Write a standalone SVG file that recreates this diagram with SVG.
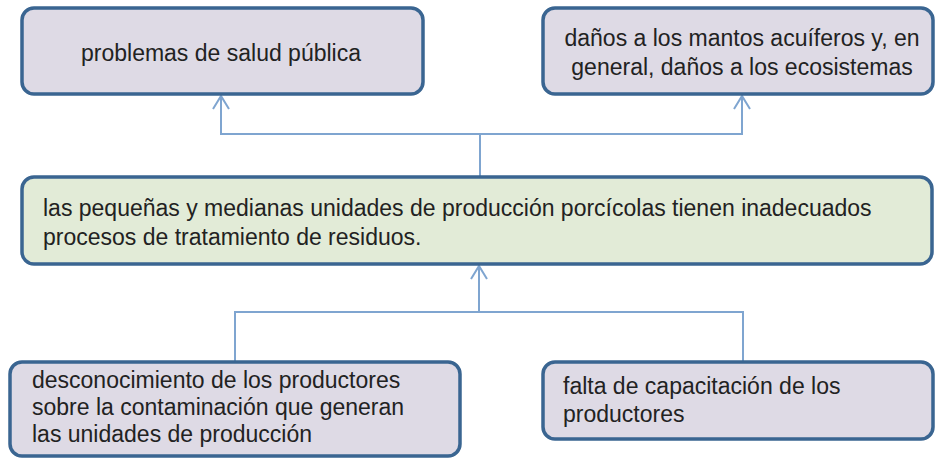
<svg xmlns="http://www.w3.org/2000/svg" width="935" height="458" viewBox="0 0 935 458">
<style>
.box{fill:#DEDAE5;stroke:#3A6591;stroke-width:3.5}
.green{fill:#E2EBD7;stroke:#3A6591;stroke-width:3.5}
.t{font-family:"Liberation Sans","DejaVu Sans",sans-serif;font-size:23px;fill:#222}
.c{fill:none;stroke:#7FA5D0;stroke-width:2}
</style>
<defs>
<marker id="ah" markerWidth="16" markerHeight="20" refX="14" refY="9" orient="auto-start-reverse" markerUnits="userSpaceOnUse" viewBox="0 0 16 20">
<path d="M1,1 L14,9 L1,17" fill="none" stroke="#7FA5D0" stroke-width="2"/>
</marker>
</defs>
<g id="connectors">
<path class="c" d="M221,96 V134 H742 V96" marker-start="url(#ah)" marker-end="url(#ah)"/>
<path class="c" d="M480,134 V176"/>
<path class="c" d="M479,266 V312" marker-start="url(#ah)"/>
<path class="c" d="M235,361 V312 H743 V361"/>
</g>
<g id="n1">
<rect class="box" x="22" y="8" width="401" height="86" rx="12"/>
<text class="t" x="221" y="61" text-anchor="middle">problemas  de salud pública</text>
</g>
<g id="n2">
<rect class="box" x="543" y="8" width="390" height="86" rx="12"/>
<text class="t" x="742" y="46" text-anchor="middle">daños a los mantos  acuíferos y, en</text>
<text class="t" x="742" y="75" text-anchor="middle">general, daños a los ecosistemas</text>
</g>
<g id="n3">
<rect class="green" x="22" y="177" width="910" height="87" rx="12"/>
<text class="t" x="43" y="216">las pequeñas y medianas unidades de producción  porcícolas tienen inadecuados</text>
<text class="t" x="43" y="245">procesos de tratamiento  de residuos.</text>
</g>
<g id="n4">
<rect class="box" x="10" y="362" width="450" height="94" rx="12"/>
<text class="t" x="32" y="388">desconocimiento  de los productores</text>
<text class="t" x="32" y="415">sobre la contaminación  que generan</text>
<text class="t" x="32" y="442">las unidades de producción</text>
</g>
<g id="n5">
<rect class="box" x="543" y="362" width="390" height="77" rx="12"/>
<text class="t" x="563" y="394">falta de capacitación de los</text>
<text class="t" x="563" y="422">productores</text>
</g>
</svg>
